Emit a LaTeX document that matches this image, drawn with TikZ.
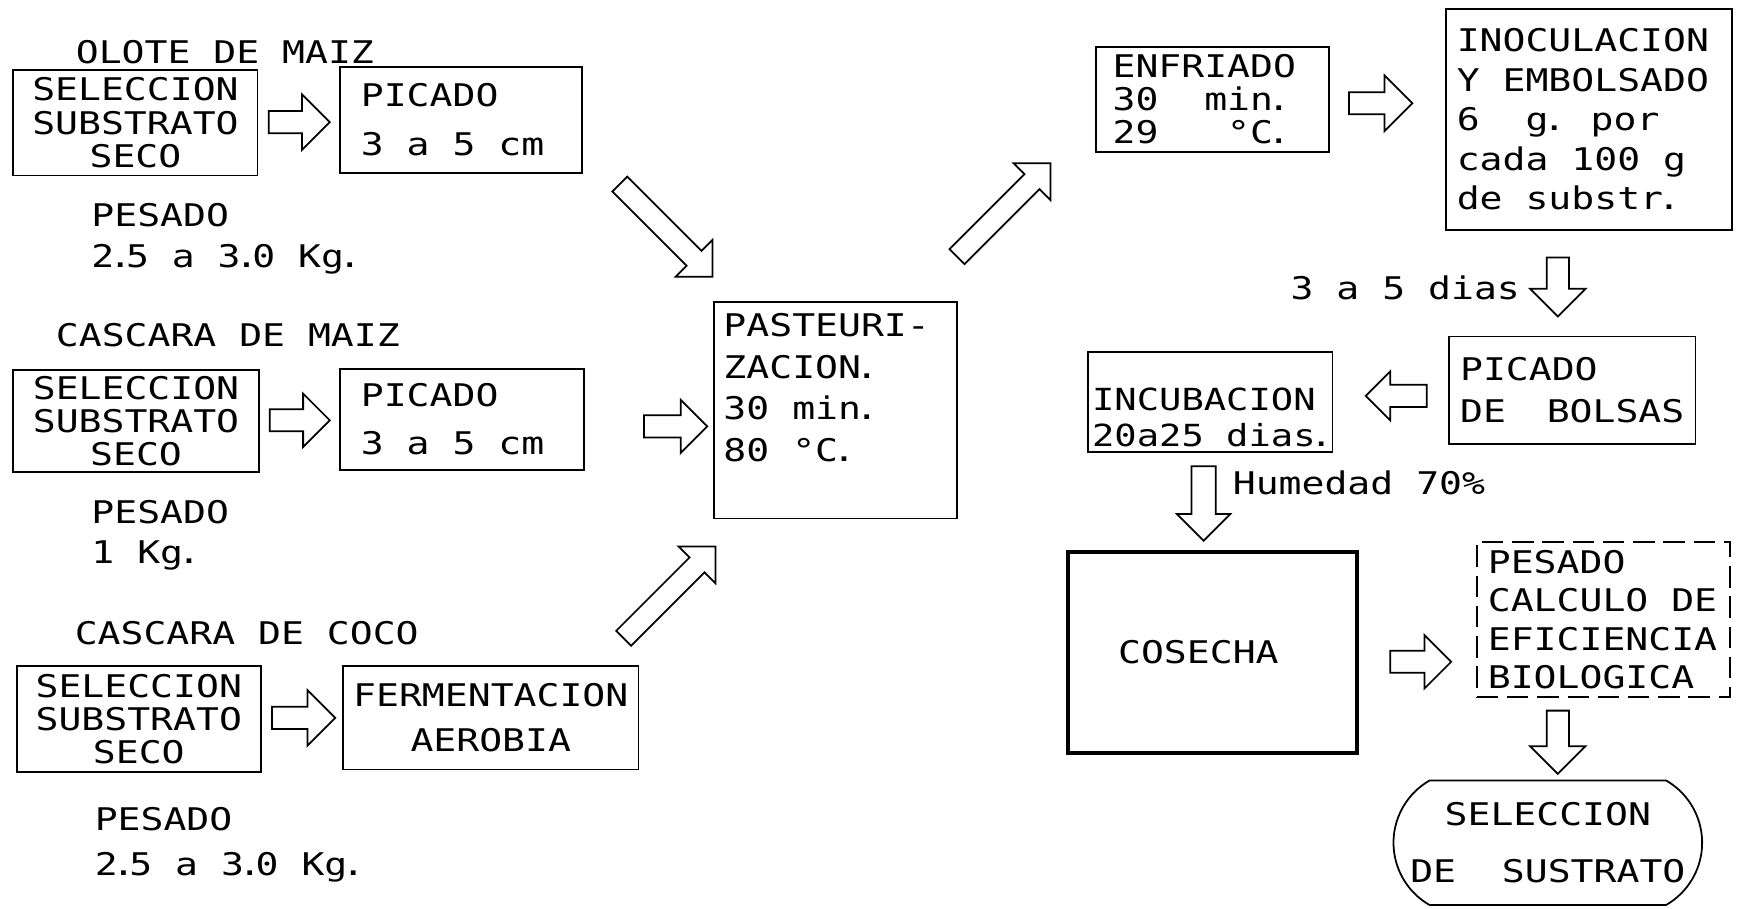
\documentclass[tikz,border=0pt]{standalone}
\usepackage{fontspec}
\setmainfont{DejaVu Sans Mono}[FakeStretch=1.22]
\usetikzlibrary{shapes.misc}

\newcommand{\fs}[1]{\fontsize{16}{#1}\selectfont}
\newcommand{\dotp}{\kern-.18em.\kern-.18em}

\tikzset{
  box/.style={draw, line width=0.9pt, inner sep=0pt, font=\fs{17pt}},
  lbl/.style={inner sep=0pt, align=left, font=\fs{21pt}},
  % block arrow: length / half head width / half shaft width
  pics/blkarrow/.style args={#1/#2/#3}{code={
    \draw[line width=0.9pt, line join=miter]
      (-#1/2,-#3) -- ({#1/2-#2},-#3) -- ({#1/2-#2},-#2) -- (#1/2,0)
      -- ({#1/2-#2},#2) -- ({#1/2-#2},#3) -- (-#1/2,#3) -- cycle;
  }},
}

\begin{document}
\begin{tikzpicture}[x=0.02cm, y=-0.02cm]
  \useasboundingbox (0,0) rectangle (1568,818);

  % olote de maiz
  \node[lbl, anchor=base west] (olote) at (68,57) {OLOTE DE MAIZ};
  \node[box, minimum width=4.4cm, minimum height=1.9cm, align=center] (sel1) at (122,110.5) {SELECCION\\SUBSTRATO\\SECO};
  \pic (a1) at (269.5,110) {blkarrow=55/25/10};
  \node[box, minimum width=4.36cm, minimum height=1.92cm, align=flush left, text width=3.6cm, inner xsep=0.38cm, font=\fs{25pt}] (pic1) at (415,108) {PICADO\\3 a 5 cm};
  \node[lbl, anchor=north west] (pes1) at (82,183) {PESADO\\2\dotp5 a 3\dotp0 Kg\dotp};

  % cascara de maiz
  \node[lbl, anchor=base west] (maiz) at (50,312) {CASCARA DE MAIZ};
  \node[box, minimum width=4.42cm, minimum height=1.84cm, align=center] (sel2) at (122.5,379) {SELECCION\\SUBSTRATO\\SECO};
  \pic (a2) at (270,378.5) {blkarrow=54/24/10};
  \node[box, minimum width=4.4cm, minimum height=1.82cm, align=flush left, text width=3.64cm, inner xsep=0.38cm, font=\fs{24.5pt}] (pic2) at (416,377.5) {PICADO\\3 a 5 cm};
  \node[lbl, anchor=north west, font=\fs{20.5pt}] (pes2) at (82,450) {PESADO\\1 Kg\dotp};

  % cascara de coco
  \node[lbl, anchor=base west] (coco) at (67,580) {CASCARA DE COCO};
  \node[box, minimum width=4.4cm, minimum height=1.9cm, align=center] (sel3) at (125,647.5) {SELECCION\\SUBSTRATO\\SECO};
  \pic (a3) at (273.5,646.5) {blkarrow=57/25/10};
  \node[box, minimum width=5.32cm, minimum height=1.86cm, align=center, font=\fs{22.8pt}] (ferm) at (442,646.5) {FERMENTACION\\AEROBIA};
  \node[lbl, anchor=north west, font=\fs{22.8pt}] (pes3) at (85,727) {PESADO\\2\dotp5 a 3\dotp0 Kg\dotp};

  % pasteurizacion
  \pic[rotate=-45] (d1) at (600,207.5) {blkarrow=118/23.5/9.5};
  \pic (a4) at (608.5,384) {blkarrow=57/24/10};
  \pic[rotate=45] (d3) at (603,533.5) {blkarrow=117/23.5/9.5};
  \node[box, minimum width=4.38cm, minimum height=3.9cm] (past) at (752.5,369.5) {};
  \node[lbl, anchor=north west, font=\fs{21.2pt}] (pastT) at ([shift={(9,11)}]past.north west) {PASTEURI-\\ZACION\dotp\\30 min\dotp\\80 °C\dotp};
  \pic[rotate=45] (d2) at (904,189) {blkarrow=119/23.5/9.5};

  % enfriado e inoculacion
  \node[box, minimum width=4.2cm, minimum height=1.9cm, align=flush left, text width=3.6cm, inner xsep=0.3cm] (enfr) at (1092,89.5) {ENFRIADO\\30\ \ min\dotp\\29\ \ \ °C\dotp};
  \pic (a5) at (1243.5,93) {blkarrow=57/25/10};
  \node[box, minimum width=5.16cm, minimum height=3.98cm, align=flush left, text width=4.76cm, inner xsep=0.2cm, font=\fs{20.3pt}] (inoc) at (1431,107.5) {INOCULACION\\Y EMBOLSADO\\6\ \ g\dotp{} por\\cada 100 g\\de substr\dotp};
  \node[lbl, anchor=base west] (dias) at (1162,270) {3 a 5 dias};
  \pic[rotate=-90] (a6) at (1403,258.5) {blkarrow=53/25/10};

  % incubacion
  \node[box, minimum width=4.44cm, minimum height=1.94cm, align=flush left, text width=4.04cm, inner xsep=0.2cm, font=\fs{21.6pt}] (bols) at (1416,351.5) {PICADO\\DE\ \ BOLSAS};
  \pic[rotate=180] (a7) at (1257.5,356.5) {blkarrow=55/22/10};
  \node[box, minimum width=4.4cm, minimum height=1.8cm] (incu) at (1090,362) {};
  \node[lbl, anchor=north west, font={\fontsize{15.6}{18.2}\selectfont}] (incuT) at ([shift={(4,33)}]incu.north west) {INCUBACION\\20a25 dias\dotp};
  \pic[rotate=-90] (a8) at (1084,453.5) {blkarrow=67/24/11};
  \node[lbl, anchor=base west] (hum) at (1110,445) {Humedad 70\%};

  % cosecha
  \node[box, line width=2.2pt, minimum width=5.2cm, minimum height=3.62cm, align=flush left, text width=3.4cm, inner xsep=0.9cm] (cose) at (1092,587.5) {COSECHA};
  \pic (a9) at (1279.5,596) {blkarrow=55/24/10};
  \node[box, dash pattern=on 11pt off 4.5pt, minimum width=4.56cm, minimum height=2.8cm, align=flush left, text width=4.16cm, inner xsep=0.2cm, font=\fs{19.6pt}] (pesa) at (1444,558) {PESADO\\CALCULO DE\\EFICIENCIA\\BIOLOGICA};
  \pic[rotate=-90] (a10) at (1403,668.5) {blkarrow=57/25/10};
  \node[box, rounded rectangle, rounded rectangle arc length=120, minimum width=5.56cm, minimum height=2.24cm, align=center, font=\fs{29.6pt}] (sust) at (1394,759) {SELECCION\\DE\ \ SUSTRATO};
\end{tikzpicture}
\end{document}
